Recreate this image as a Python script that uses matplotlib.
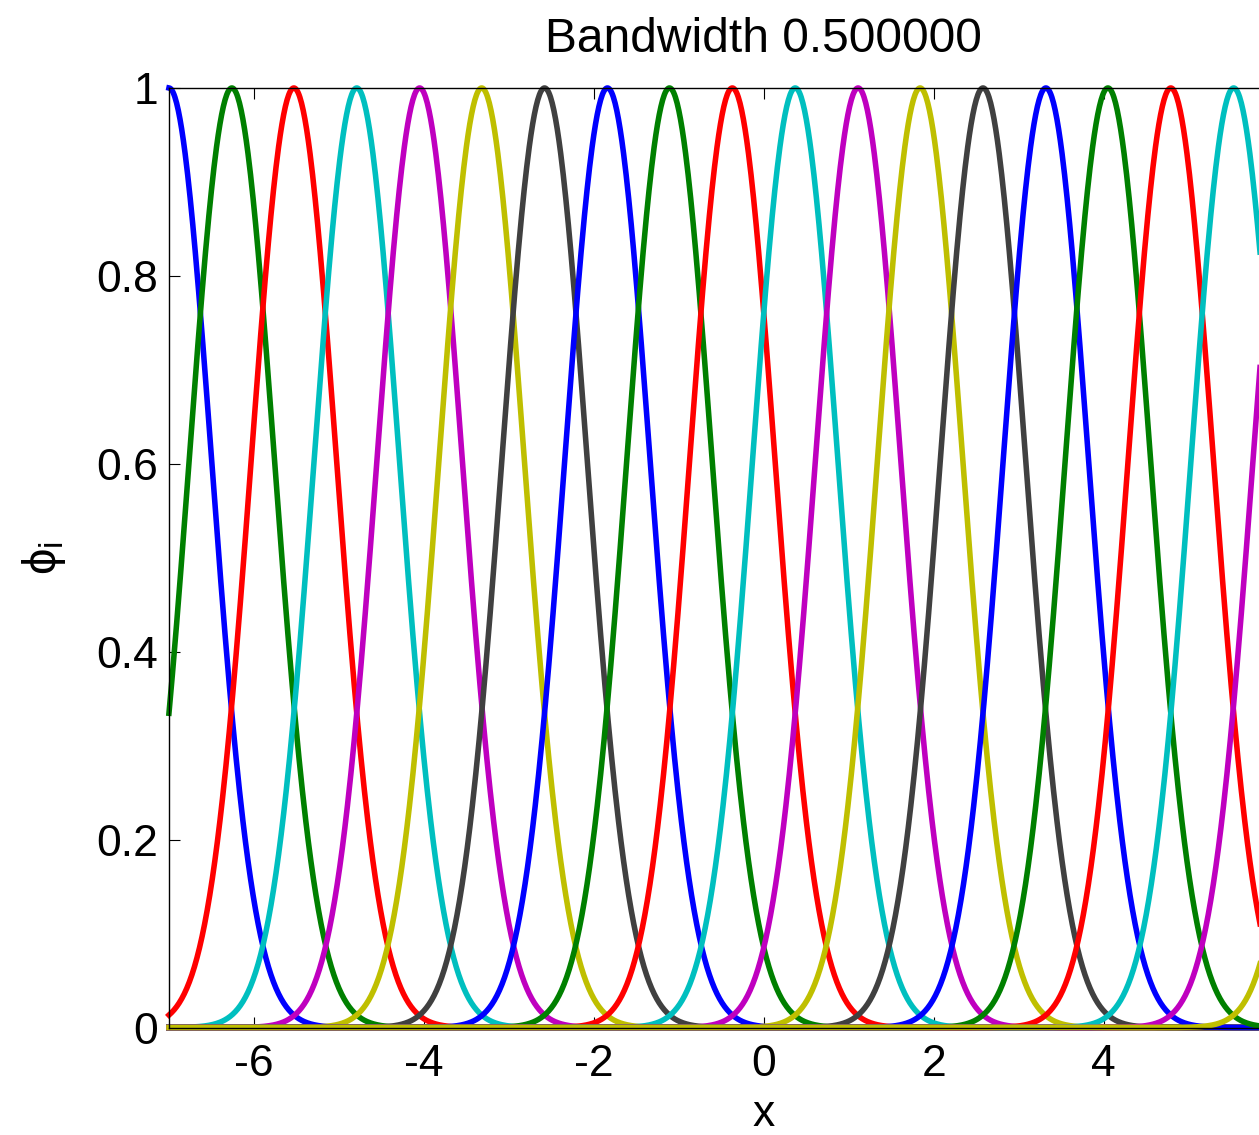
import matplotlib
matplotlib.use("Agg")
import matplotlib.pyplot as plt
import numpy as np

plt.rcParams["font.family"] = ["Liberation Sans", "DejaVu Sans"]
plt.rcParams["mathtext.fontset"] = "custom"
plt.rcParams["mathtext.rm"] = "Liberation Sans"
plt.rcParams["mathtext.it"] = "Liberation Sans"
plt.rcParams["axes.unicode_minus"] = False

# basis centres (20 of them, the last ones fall outside the crop)
centers = [-7.00, -6.26, -5.53, -4.79, -4.05, -3.32, -2.58, -1.84, -1.11, -0.37,
           0.37, 1.11, 1.84, 2.58, 3.32, 4.05, 4.79, 5.53, 6.26, 7.00]
bandwidth = 0.5
# old matlab colour order
colors = ["#0000ff", "#008000", "#ff0000", "#00bfbf", "#bf00bf", "#bfbf00", "#404040"]
x_ticks = [-6, -4, -2, 0, 2, 4]
y_ticks = [0, 0.2, 0.4, 0.6, 0.8, 1]
y_tick_labels = ["0", "0.2", "0.4", "0.6", "0.8", "1"]

fig = plt.figure(figsize=(12.59, 11.35), dpi=100)
# the original figure was wider; axes run past the right edge like the crop
ax = fig.add_axes([0.1342, 0.0947, 0.9449, 0.8278])

x = np.linspace(-7, 7, 1401)
for i, c in enumerate(centers):
    phi = np.exp(-(x - c) ** 2 / (2 * bandwidth ** 2))
    ax.plot(x, phi, color=colors[i % len(colors)], linewidth=4.0, clip_on=False)

ax.set_xlim(-7, 7)
ax.set_ylim(0, 1)
ax.set_xticks(x_ticks)
ax.set_yticks(y_ticks)
ax.set_yticklabels(y_tick_labels)
ax.tick_params(direction="in", length=8, width=0.8, labelsize=32,
               top=True, right=True)
ax.tick_params(axis="x", pad=12)
ax.tick_params(axis="y", pad=8)
for s in ax.spines.values():
    s.set_linewidth(1.0)

ax.set_title("Bandwidth 0.500000", fontsize=34.5, pad=26)
ax.set_xlabel("x", fontsize=32, labelpad=6)
ax.set_ylabel(r"$\phi_{\mathrm{i}}$", fontsize=34, labelpad=20)

fig.savefig("out.png", dpi=100)
